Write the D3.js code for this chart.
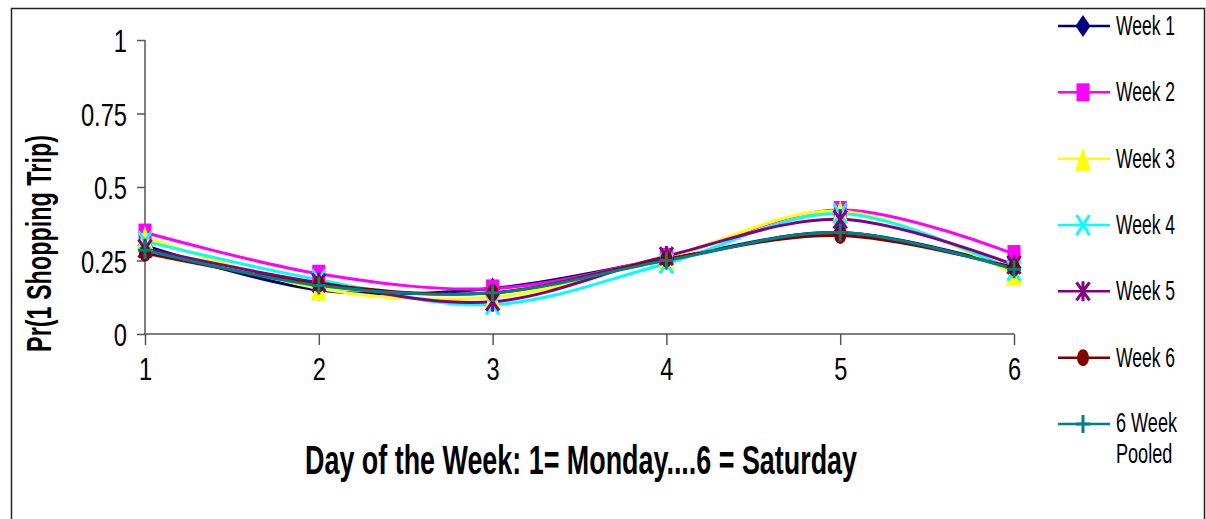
<!DOCTYPE html>
<html>
<head>
<meta charset="utf-8">
<script src="https://cdn.jsdelivr.net/npm/d3@7"></script>
<style>
  html, body { margin: 0; padding: 0; background: #fff; }
  svg { display: block; }
  text { font-family: "Liberation Sans", Arial, sans-serif; fill: #000; }
</style>
</head>
<body>
<svg id="chart" width="1206" height="519"></svg>
<script>
// Probability of one shopping trip by day of week
const days = [1, 2, 3, 4, 5, 6];
const yTicks = [0, 0.25, 0.5, 0.75, 1];
const yTickLabels = ["0", "0.25", "0.5", "0.75", "1"];

const seriesNames = ["Week 1", "Week 2", "Week 3", "Week 4", "Week 5", "Week 6", "6 Week Pooled"];
const week1  = [0.300, 0.150, 0.155, 0.255, 0.345, 0.225];
const week2  = [0.345, 0.205, 0.155, 0.262, 0.422, 0.272];
const week3  = [0.330, 0.155, 0.125, 0.260, 0.418, 0.205];
const week4  = [0.315, 0.185, 0.100, 0.240, 0.410, 0.215];
const week5  = [0.290, 0.175, 0.110, 0.265, 0.390, 0.235];
const week6  = [0.275, 0.170, 0.140, 0.255, 0.335, 0.225];
const pooled = [0.285, 0.165, 0.140, 0.250, 0.345, 0.220];

const seriesValues = [week1, week2, week3, week4, week5, week6, pooled];
const colors = ["#000080", "#FF00FF", "#FFFF00", "#00FFFF", "#800080", "#800000", "#008080"];
const markers = ["diamond", "square", "triangle", "x", "asterisk", "circle", "plus"];

const svg = d3.select("#chart");

// outer frame
svg.append("path")
  .attr("d", "M11.5,530 L11.5,8.5 L1204.5,8.5 L1204.5,530")
  .attr("fill", "none").attr("stroke", "#222").attr("stroke-width", 1.5);

const x = d3.scaleLinear().domain([1, 6]).range([145, 1014]);
const y = d3.scaleLinear().domain([0, 1]).range([334, 40]);

const axisColor = "#555";

// y axis
const yAxis = svg.append("g").attr("transform", "translate(145,0)")
  .call(d3.axisLeft(y).tickValues(yTicks).tickSize(8).tickPadding(10)
    .tickFormat((d, i) => yTickLabels[i]));
yAxis.select(".domain").remove();
yAxis.append("line").attr("x1", 0).attr("x2", 0).attr("y1", y(1)).attr("y2", y(0));
yAxis.selectAll("line").attr("stroke", axisColor).attr("stroke-width", 1.5);
yAxis.selectAll("text").attr("font-size", 32).attr("fill", "#000")
  .attr("font-family", "Liberation Sans, Arial, sans-serif")
  .attr("dy", "0.36em");

// x axis
const xAxis = svg.append("g").attr("transform", "translate(0,334)")
  .call(d3.axisBottom(x).tickValues(days).tickSize(11).tickPadding(13)
    .tickFormat(d3.format("d")));
xAxis.select(".domain").remove();
xAxis.append("line").attr("x1", x(1)).attr("x2", x(6)).attr("y1", 0).attr("y2", 0);
xAxis.selectAll("line").attr("stroke", axisColor).attr("stroke-width", 1.5);
xAxis.selectAll("text").attr("font-size", 31).attr("fill", "#000")
  .attr("font-family", "Liberation Sans, Arial, sans-serif")
  .attr("dy", "0.71em");

// condensed look for the tick labels
function narrow(sel, f) {
  sel.each(function () {
    const w = this.getComputedTextLength();
    d3.select(this).attr("textLength", w * f).attr("lengthAdjust", "spacingAndGlyphs");
  });
}
narrow(yAxis.selectAll("text"), 0.74);
narrow(xAxis.selectAll("text"), 0.76);

// condensed text: drawn at natural width, then squeezed horizontally to a target width
function condensedText(base, str, width, attrs) {
  const g = svg.append("g").attr("transform", base);
  const t = g.append("text").attr("text-anchor", "middle").text(str);
  Object.entries(attrs).forEach(([k, v]) => t.attr(k, v));
  const w = t.node().getComputedTextLength();
  g.attr("transform", `${base} scale(${width / w},1)`);
  return g;
}

// axis titles
condensedText("translate(51,243.5) rotate(-90)", "Pr(1 Shopping Trip)", 217,
  { "font-size": 36, "font-weight": "bold" });
condensedText("translate(581,474)", "Day of the Week: 1= Monday....6 = Saturday", 552,
  { "font-size": 40, "font-weight": "bold" });

// marker shapes, centred on (0,0)
function drawMarker(g, type, color) {
  switch (type) {
    case "diamond":
      g.append("path").attr("d", "M0,-11L7.5,0L0,11L-7.5,0Z").attr("fill", color);
      break;
    case "square":
      g.append("rect").attr("x", -6.5).attr("y", -9).attr("width", 13).attr("height", 18).attr("fill", color);
      break;
    case "triangle":
      g.append("path").attr("d", "M0,-11L8,12L-8,12Z").attr("fill", color);
      break;
    case "x":
      g.append("path").attr("d", "M-6.5,-10L6.5,10M6.5,-10L-6.5,10")
        .attr("stroke", color).attr("stroke-width", 3).attr("fill", "none");
      break;
    case "asterisk":
      g.append("path").attr("d", "M-6.5,-9L6.5,9M6.5,-9L-6.5,9M0,-10L0,10")
        .attr("stroke", color).attr("stroke-width", 3).attr("fill", "none");
      break;
    case "circle":
      g.append("ellipse").attr("rx", 6).attr("ry", 8.5).attr("fill", color);
      break;
    case "plus":
      g.append("path").attr("d", "M-7,0L7,0M0,-9L0,9")
        .attr("stroke", color).attr("stroke-width", 3).attr("fill", "none");
      break;
  }
}

// series lines (smoothed)
const line = d3.line()
  .x((d, i) => x(days[i]))
  .y(d => y(d))
  .curve(d3.curveCardinal.tension(0));

const plot = svg.append("g");
seriesValues.forEach((vals, s) => {
  plot.append("path")
    .datum(vals)
    .attr("d", line)
    .attr("fill", "none")
    .attr("stroke", colors[s])
    .attr("stroke-width", 3)
    .attr("stroke-linejoin", "round");
});
seriesValues.forEach((vals, s) => {
  vals.forEach((v, i) => {
    const g = plot.append("g").attr("transform", `translate(${x(days[i])},${y(v)})`);
    drawMarker(g, markers[s], colors[s]);
  });
});

// legend, with horizontally condensed labels (long names wrap onto two lines)
const legendWrap = { "6 Week Pooled": ["6 Week", "Pooled"] };

function legendLabel(g, name, ty, width) {
  const lines = legendWrap[name] || [name];
  const t = g.append("g").attr("transform", `translate(1116,${ty})`);
  const txt = t.append("text").attr("font-size", 28);
  lines.forEach((ln, i) => {
    txt.append("tspan").attr("x", 0).attr("y", i * 31).text(ln);
  });
  let w = 0;
  txt.selectAll("tspan").each(function () { w = Math.max(w, this.getComputedTextLength()); });
  t.attr("transform", `translate(1116,${ty}) scale(${width / w},1)`);
}

const legend = svg.append("g");
const legendY = d3.scaleLinear().domain([0, 6]).range([26, 424]);
seriesNames.forEach((name, s) => {
  const ly = legendY(s);
  const g = legend.append("g").attr("transform", `translate(0,${ly})`);
  g.append("line").attr("x1", 1058).attr("x2", 1110).attr("y1", 0).attr("y2", 0)
    .attr("stroke", colors[s]).attr("stroke-width", 2.5);
  const m = g.append("g").attr("transform", "translate(1083,0)");
  drawMarker(m, markers[s], colors[s]);
  if (legendWrap[name]) {
    legendLabel(g, name, 8, 61);
  } else {
    legendLabel(g, name, 9, 59);
  }
});
</script>
</body>
</html>
